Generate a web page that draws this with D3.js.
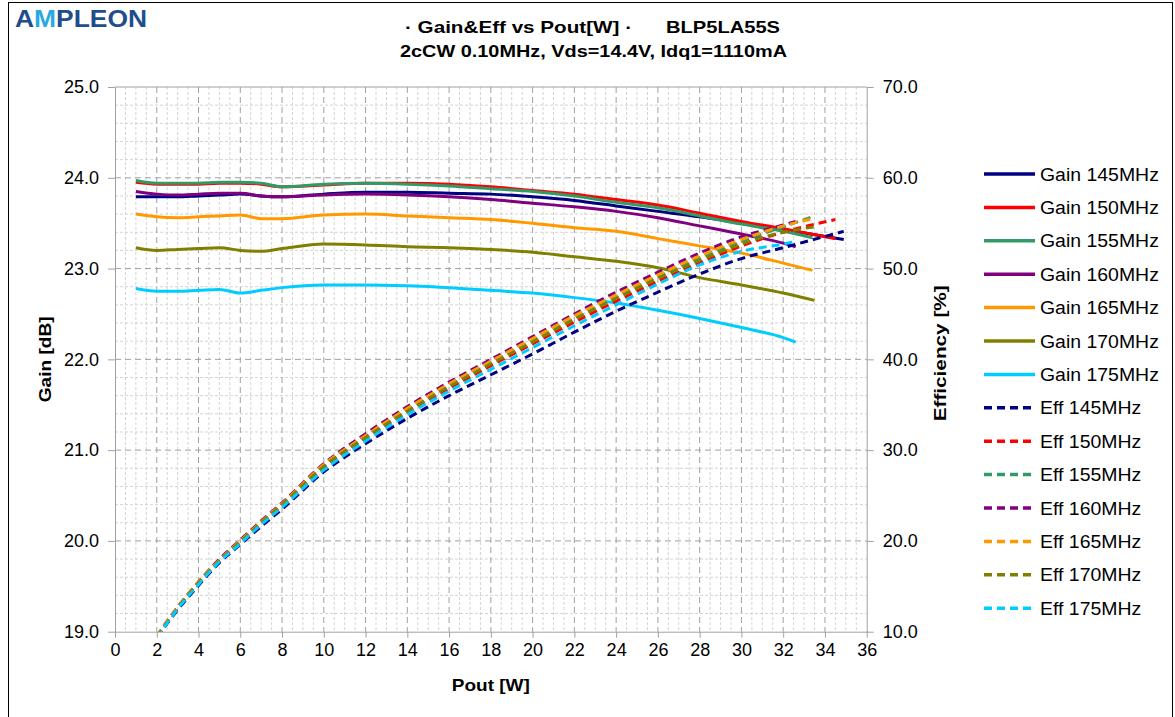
<!DOCTYPE html>
<html>
<head>
<meta charset="utf-8">
<script src="https://cdn.jsdelivr.net/npm/d3@7"></script>
<style>
  body { margin: 0; background: #fff; }
  svg { display: block; font-family: "Liberation Sans", Arial, sans-serif; }
</style>
</head>
<body>
<div id="chart"></div>
<script>
// ---- data ----
const freqs = [145, 150, 155, 160, 165, 170, 175];
const colors = ["#000080", "#ff0000", "#339966", "#800080", "#ff9900", "#808000", "#00ccff"];

// shared Pout points [W]; each series then has its own last point
const poutPts = [1, 2, 3, 4, 5, 6, 7, 8, 10, 12, 14, 16, 18, 20, 22, 24, 26, 28, 30, 32];
const poutEnd = [34.9, 34.5, 33.4, 32.6, 33.4, 33.5, 32.6];

// Gain [dB]
const gain145 = [23.79, 23.79, 23.79, 23.80, 23.81, 23.82, 23.80, 23.79, 23.82, 23.84, 23.84, 23.83, 23.82, 23.79, 23.75, 23.69, 23.63, 23.57, 23.50, 23.43, 23.32];
const gain150 = [23.95, 23.93, 23.93, 23.93, 23.94, 23.94, 23.93, 23.90, 23.92, 23.94, 23.94, 23.93, 23.90, 23.86, 23.82, 23.76, 23.70, 23.61, 23.52, 23.44, 23.33];
const gain155 = [23.97, 23.94, 23.94, 23.94, 23.95, 23.95, 23.94, 23.90, 23.93, 23.94, 23.93, 23.91, 23.88, 23.85, 23.80, 23.73, 23.67, 23.58, 23.49, 23.41, 23.34];
const gain160 = [23.85, 23.82, 23.81, 23.82, 23.83, 23.83, 23.80, 23.79, 23.81, 23.82, 23.81, 23.79, 23.76, 23.72, 23.68, 23.63, 23.56, 23.47, 23.38, 23.28, 23.24];
const gain165 = [23.60, 23.57, 23.56, 23.57, 23.58, 23.59, 23.55, 23.55, 23.59, 23.60, 23.58, 23.56, 23.54, 23.50, 23.45, 23.41, 23.33, 23.25, 23.17, 23.06, 22.98];
const gain170 = [23.23, 23.20, 23.21, 23.22, 23.23, 23.20, 23.19, 23.22, 23.27, 23.26, 23.24, 23.23, 23.21, 23.18, 23.13, 23.08, 23.01, 22.90, 22.82, 22.73, 22.65];
const gain175 = [22.78, 22.75, 22.75, 22.76, 22.77, 22.73, 22.76, 22.79, 22.82, 22.82, 22.81, 22.79, 22.76, 22.73, 22.68, 22.62, 22.54, 22.45, 22.35, 22.24, 22.19];

// Efficiency [%]
const eff145 = [5.7, 9.3, 12.4, 15.1, 17.6, 19.6, 21.6, 23.5, 27.6, 30.7, 33.5, 36.0, 38.3, 40.6, 43.0, 45.3, 47.4, 49.4, 51.1, 52.3, 54.1];
const eff150 = [5.8, 9.4, 12.6, 15.4, 17.8, 19.9, 21.9, 23.9, 28.1, 31.3, 34.2, 36.8, 39.3, 41.7, 44.1, 46.4, 48.6, 50.6, 52.5, 54.0, 55.4];
const eff155 = [5.8, 9.4, 12.6, 15.4, 17.9, 20.0, 22.0, 24.0, 28.2, 31.5, 34.4, 37.1, 39.6, 42.1, 44.5, 46.9, 49.1, 51.2, 53.0, 54.6, 55.7];
const eff160 = [5.8, 9.5, 12.7, 15.5, 18.0, 20.1, 22.2, 24.2, 28.5, 31.8, 34.8, 37.5, 40.0, 42.5, 45.0, 47.4, 49.6, 51.7, 53.5, 54.8, 55.2];
const eff165 = [5.8, 9.5, 12.7, 15.5, 17.9, 20.0, 22.1, 24.1, 28.4, 31.6, 34.6, 37.3, 39.8, 42.3, 44.8, 47.1, 49.3, 51.4, 53.2, 54.7, 55.5];
const eff170 = [5.8, 9.4, 12.6, 15.4, 17.8, 19.9, 22.0, 24.0, 28.2, 31.4, 34.3, 37.0, 39.5, 41.9, 44.4, 46.7, 48.9, 50.9, 52.7, 54.0, 54.6];
const eff175 = [5.7, 9.3, 12.5, 15.2, 17.7, 19.7, 21.8, 23.7, 27.8, 31.0, 33.9, 36.5, 38.9, 41.3, 43.7, 46.0, 48.3, 50.4, 51.9, 52.7, 53.0];

const gains = [gain145, gain150, gain155, gain160, gain165, gain170, gain175];
const effs = [eff145, eff150, eff155, eff160, eff165, eff170, eff175];

// ---- layout ----
const width = 1175, height = 717;
const plot = { left: 115, right: 866.7, top: 87, bottom: 631.7 };

const svg = d3.select("#chart")
    .append("svg")
    .attr("width", width)
    .attr("height", height);

svg.append("rect")
    .attr("x", 8.5).attr("y", 2.5)
    .attr("width", 1164).attr("height", 730)
    .attr("fill", "#fff")
    .attr("stroke", "#000")
    .attr("stroke-width", 1);

const x = d3.scaleLinear().domain([0, 36]).range([plot.left, plot.right]);
const yGain = d3.scaleLinear().domain([19, 25]).range([plot.bottom, plot.top]);
const yEff = d3.scaleLinear().domain([10, 70]).range([plot.bottom, plot.top]);

// the reference's text is a bit wider than Liberation Sans, stretch it
const stretch = (sel, factor) => sel.each(function () {
    const len = this.getComputedTextLength();
    d3.select(this).attr("textLength", len * factor).attr("lengthAdjust", "spacingAndGlyphs");
});

// grid: minor first, then major
const grid = svg.append("g");
grid.selectAll(".vminor")
    .data(d3.range(0.5, 36, 0.5).filter(v => v % 2 !== 0))
    .enter().append("line")
    .attr("x1", d => x(d)).attr("x2", d => x(d))
    .attr("y1", plot.top).attr("y2", plot.bottom)
    .attr("stroke", "#d4d4d4").attr("stroke-dasharray", "3,2");
grid.selectAll(".hminor")
    .data(d3.range(19.2, 25, 0.2).filter(v => Math.abs(v - Math.round(v)) > 0.01))
    .enter().append("line")
    .attr("x1", plot.left).attr("x2", plot.right)
    .attr("y1", d => yGain(d)).attr("y2", d => yGain(d))
    .attr("stroke", "#d4d4d4").attr("stroke-dasharray", "3,2");
grid.selectAll(".vmajor")
    .data(d3.range(2, 36, 2))
    .enter().append("line")
    .attr("x1", d => x(d)).attr("x2", d => x(d))
    .attr("y1", plot.top).attr("y2", plot.bottom)
    .attr("stroke", "#a0a0a0").attr("stroke-dasharray", "6,4");
grid.selectAll(".hmajor")
    .data(d3.range(20, 25, 1))
    .enter().append("line")
    .attr("x1", plot.left).attr("x2", plot.right)
    .attr("y1", d => yGain(d)).attr("y2", d => yGain(d))
    .attr("stroke", "#a0a0a0").attr("stroke-dasharray", "6,4");
grid.append("line")
    .attr("x1", plot.left).attr("x2", plot.right)
    .attr("y1", plot.top).attr("y2", plot.top)
    .attr("stroke", "#a0a0a0");

// axes
const styleAxis = g => {
    g.select(".domain").attr("stroke", "#a0a0a0");
    g.selectAll(".tick line").attr("stroke", "#a0a0a0");
    g.selectAll(".tick text").attr("fill", "#000").style("font-size", "18px");
};

svg.append("g")
    .attr("transform", `translate(0,${plot.bottom})`)
    .call(d3.axisBottom(x).tickValues(d3.range(0, 37, 2)).tickSize(6).tickSizeOuter(0).tickPadding(6))
    .call(styleAxis);

svg.append("g")
    .attr("transform", `translate(${plot.left},0)`)
    .call(d3.axisLeft(yGain).tickValues(d3.range(19, 25.01, 1)).tickFormat(d3.format(".1f")).tickSize(7).tickSizeOuter(0).tickPadding(9))
    .call(styleAxis);

svg.append("g")
    .attr("transform", `translate(${plot.right},0)`)
    .call(d3.axisRight(yEff).tickValues(d3.range(10, 70.01, 10)).tickFormat(d3.format(".1f")).tickSize(7).tickSizeOuter(0).tickPadding(9))
    .call(styleAxis);

// curves
svg.append("clipPath").attr("id", "clip")
    .append("rect")
    .attr("x", plot.left).attr("y", plot.top)
    .attr("width", plot.right - plot.left).attr("height", plot.bottom - plot.top);

const pts = i => poutPts.concat([poutEnd[i]]);
const lines = svg.append("g").attr("clip-path", "url(#clip)");

gains.forEach((g, i) => {
    const line = d3.line().x(d => x(d[0])).y(d => yGain(d[1])).curve(d3.curveMonotoneX);
    lines.append("path")
        .attr("d", line(d3.zip(pts(i), g)))
        .attr("fill", "none")
        .attr("stroke", colors[i])
        .attr("stroke-width", 3);
});

effs.forEach((e, i) => {
    const line = d3.line().x(d => x(d[0])).y(d => yEff(d[1])).curve(d3.curveMonotoneX);
    lines.append("path")
        .attr("d", line(d3.zip(pts(i), e)))
        .attr("fill", "none")
        .attr("stroke", colors[i])
        .attr("stroke-width", 3)
        .attr("stroke-dasharray", "8,5");
});

// titles
svg.append("text")
    .attr("x", 405).attr("y", 33)
    .style("font-size", "17px").style("font-weight", "bold")
    .attr("textLength", 227).attr("lengthAdjust", "spacingAndGlyphs")
    .text("· Gain&Eff vs Pout[W] ·");
svg.append("text")
    .attr("x", 666).attr("y", 33)
    .style("font-size", "17px").style("font-weight", "bold")
    .attr("textLength", 114).attr("lengthAdjust", "spacingAndGlyphs")
    .text("BLP5LA55S");
svg.append("text")
    .attr("x", 400).attr("y", 57)
    .style("font-size", "17px").style("font-weight", "bold")
    .attr("textLength", 387).attr("lengthAdjust", "spacingAndGlyphs")
    .text("2cCW 0.10MHz, Vds=14.4V, Idq1=1110mA");

svg.append("text")
    .attr("x", (plot.left + plot.right) / 2).attr("y", 691)
    .attr("text-anchor", "middle")
    .style("font-size", "17px").style("font-weight", "bold")
    .attr("textLength", 78).attr("lengthAdjust", "spacingAndGlyphs")
    .text("Pout [W]");
svg.append("text")
    .attr("transform", `translate(51,${(plot.top + plot.bottom) / 2}) rotate(-90)`)
    .attr("text-anchor", "middle")
    .style("font-size", "17px").style("font-weight", "bold")
    .attr("textLength", 86).attr("lengthAdjust", "spacingAndGlyphs")
    .text("Gain [dB]");
svg.append("text")
    .attr("transform", `translate(946,${(plot.top + plot.bottom) / 2 - 6}) rotate(-90)`)
    .attr("text-anchor", "middle")
    .style("font-size", "17px").style("font-weight", "bold")
    .attr("textLength", 136).attr("lengthAdjust", "spacingAndGlyphs")
    .text("Efficiency [%]");

// logo
const logo = svg.append("text")
    .attr("x", 15).attr("y", 27)
    .style("font-size", "24px").style("font-weight", "bold")
    .attr("textLength", 132)
    .attr("lengthAdjust", "spacingAndGlyphs");
logo.append("tspan").attr("fill", "#1f4e8c").text("A");
logo.append("tspan").attr("fill", "#29a9e0").text("M");
logo.append("tspan").attr("fill", "#1f4e8c").text("PLEON");

// legend
const legendItems = freqs.map((f, i) => ({ label: `Gain ${f}MHz`, color: colors[i], dash: null }))
    .concat(freqs.map((f, i) => ({ label: `Eff ${f}MHz`, color: colors[i], dash: "8,5" })));

const legend = svg.append("g");
legendItems.forEach((d, i) => {
    const yy = 174 + i * 33.4;
    legend.append("line")
        .attr("x1", 984).attr("x2", 1035)
        .attr("y1", yy).attr("y2", yy)
        .attr("stroke", d.color).attr("stroke-width", 3.5)
        .attr("stroke-dasharray", d.dash);
    legend.append("text")
        .attr("x", 1040).attr("y", yy + 6.5)
        .style("font-size", "18px")
        .text(d.label)
        .call(stretch, 1.08);
});
</script>
</body>
</html>
